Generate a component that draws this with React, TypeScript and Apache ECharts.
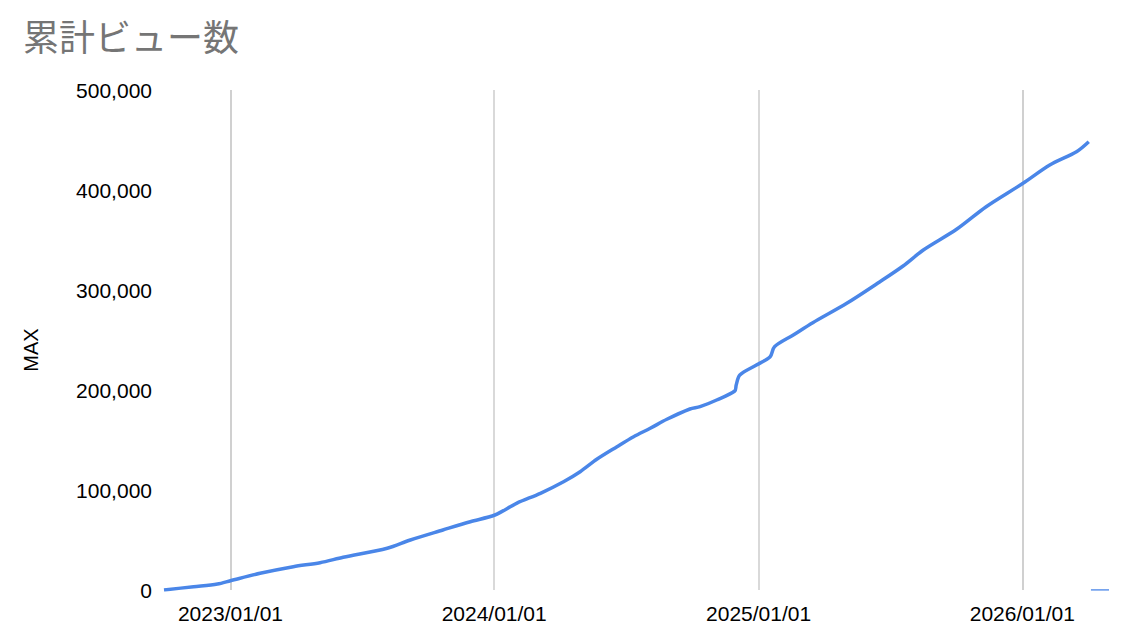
import React, { useEffect, useRef } from "react";
import * as echarts from "echarts";

const dates: string[] = [
  "2022-10-01", "2022-11-11", "2022-12-14", "2023-01-01", "2023-02-11", "2023-03-29",
  "2023-05-05", "2023-06-06", "2023-08-06", "2023-09-07", "2023-10-22", "2023-11-29",
  "2024-01-02", "2024-02-01", "2024-03-05", "2024-04-06", "2024-04-29", "2024-05-22",
  "2024-06-19", "2024-07-12", "2024-08-04", "2024-08-27", "2024-09-28", "2024-10-12",
  "2024-11-04", "2024-11-29", "2024-12-01", "2024-12-06", "2024-12-29", "2025-01-17",
  "2025-01-23", "2025-02-18", "2025-03-17", "2025-05-03", "2025-06-18", "2025-07-20",
  "2025-08-17", "2025-10-02", "2025-11-12", "2026-01-02", "2026-02-08", "2026-03-17",
  "2026-04-03",
];

const views: number[] = [
  0, 3300, 6000, 9300, 16700, 23300,
  27300, 32700, 41700, 50000, 60000, 68300,
  75000, 86700, 96700, 108300, 118300, 130700,
  143300, 153300, 161700, 170700, 181000, 183300,
  190000, 199000, 205000, 215000, 225000, 233300,
  243300, 255000, 267300, 286700, 308300, 324000,
  340000, 360700, 383300, 406700, 425000, 438300,
  448300,
];

const tailDates: string[] = ["2026-04-06", "2026-05-01"];
const tailValues: number[] = [0, 0];

const xTicks: string[] = ["2023-01-01", "2024-01-01", "2025-01-01", "2026-01-01"];
const xMin = "2022-10-01";
const xMax = "2026-05-01";

const ts = (s: string) => new Date(s + "T00:00:00").getTime();

export default function App() {
  const ref = useRef<HTMLDivElement>(null);
  useEffect(() => {
    document.body.style.margin = "0";
    if (!ref.current) return;
    const chart = echarts.init(ref.current, null, { renderer: "svg" });
    const font = "'Liberation Sans', Arial, sans-serif";
    const tickVals = xTicks.map(ts);
    chart.setOption({
      animation: false,
      backgroundColor: "#ffffff",
      title: {
        text: "累計ビュー数",
        left: 18,
        top: 12,
        textStyle: {
          fontSize: 36,
          fontWeight: "normal",
          color: "#757575",
          fontFamily: "'Noto Sans CJK JP', sans-serif",
        },
      },
      graphic: [
        {
          type: "text",
          x: 31,
          y: 350,
          rotation: Math.PI / 2,
          style: {
            text: "MAX",
            fontSize: 20,
            fontFamily: font,
            fill: "#000000",
            align: "center",
            verticalAlign: "middle",
          },
        },
      ],
      grid: { left: 164, right: 19, top: 90, bottom: 54 },
      xAxis: {
        type: "time",
        min: ts(xMin),
        max: ts(xMax),
        axisLine: { show: false },
        axisTick: { show: false, customValues: tickVals },
        splitLine: { show: true, lineStyle: { color: "#cccccc", width: 1.5 } },
        axisLabel: {
          customValues: tickVals,
          formatter: "{yyyy}/{MM}/{dd}",
          fontSize: 21,
          fontFamily: font,
          color: "#000000",
          margin: 13,
        },
      },
      yAxis: {
        type: "value",
        min: 0,
        max: 500000,
        interval: 100000,
        axisLine: { show: false },
        axisTick: { show: false },
        splitLine: { show: false },
        axisLabel: {
          fontSize: 21,
          fontFamily: font,
          color: "#000000",
          margin: 12,
          formatter: (v: number) => v.toLocaleString("en-US"),
        },
      },
      series: [
        {
          type: "line",
          data: dates.map((d, i) => [ts(d), views[i]]),
          showSymbol: false,
          smooth: 0.3,
          lineStyle: { color: "#4a86e8", width: 3.5 },
          itemStyle: { color: "#4a86e8" },
        },
        {
          type: "line",
          data: tailDates.map((d, i) => [ts(d), tailValues[i]]),
          showSymbol: false,
          lineStyle: { color: "#4a86e8", width: 1.5 },
          itemStyle: { color: "#4a86e8" },
        },
      ],
    });
    return () => chart.dispose();
  }, []);
  return <div ref={ref} style={{ width: 1128, height: 644 }} />;
}
